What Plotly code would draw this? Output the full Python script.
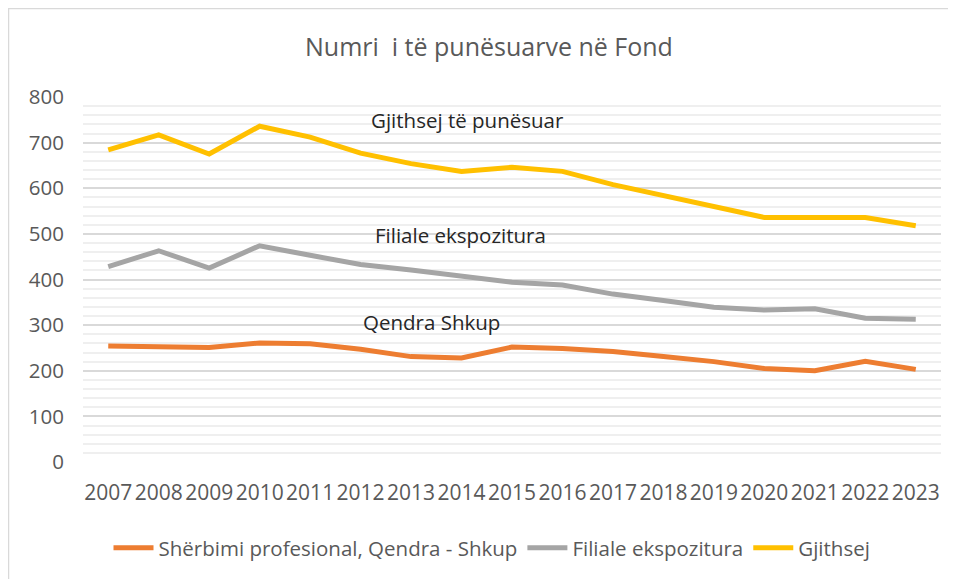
import plotly.graph_objects as go

years = list(range(2007, 2024))
qendra = [254, 253, 251, 261, 259, 247, 231, 228, 252, 249, 242, 231, 220, 205, 200, 221, 203]
filiale = [428, 463, 425, 474, 453, 433, 421, 407, 394, 388, 368, 354, 339, 333, 336, 315, 313]
gjithsej = [684, 717, 675, 736, 712, 677, 654, 637, 646, 637, 608, 584, 558, 536, 536, 536, 518]

series_names = ["Shërbimi profesional, Qendra - Shkup", "Filiale ekspozitura", "Gjithsej"]
colors = ["#ED7D31", "#A5A5A5", "#FFC000"]
title_text = "Numri  i të punësuarve në Fond"
y_ticks = [0, 100, 200, 300, 400, 500, 600, 700, 800]

# page is offset by the default 8px body margin
OFF = 8
W, H = 956, 579
ml, mt = 83 - OFF, 97 - OFF
pw, ph = 858, 365
mr = W - ml - pw
mb = H - mt - ph

def px_x(p):
    return (p - OFF - ml) / pw

def px_y(p):
    return (mt + ph - (p - OFF)) / ph

FONT = "Open Sans"
fig = go.Figure()
for vals, name, col in zip([qendra, filiale, gjithsej], series_names, colors):
    fig.add_trace(go.Scatter(x=years, y=vals, name=name, mode="lines",
                             line=dict(color=col, width=5)))

annotations = [
    dict(text="Gjithsej të punësuar", x=2014.11, y=750),
    dict(text="Filiale ekspozitura", x=2013.98, y=498),
    dict(text="Qendra Shkup", x=2013.4, y=307),
]
for a in annotations:
    fig.add_annotation(text=a["text"], x=a["x"], y=a["y"], xref="x", yref="y",
                       showarrow=False, font=dict(family=FONT, size=20.5, color="#262626"),
                       xanchor="center", yanchor="middle")

fig.add_annotation(text=title_text, xref="paper", yref="paper",
                   x=px_x(488.5), y=px_y(46), showarrow=False,
                   xanchor="center", yanchor="middle",
                   font=dict(family=FONT, size=25, color="#595959"))

fig.add_shape(type="rect", xref="paper", yref="paper",
              x0=px_x(8.5), y0=px_y(600), x1=px_x(980), y1=px_y(8.5),
              line=dict(color="#D9D9D9", width=1.5), layer="below")

fig.update_layout(
    width=W, height=H,
    margin=dict(l=ml, r=mr, t=mt, b=mb),
    paper_bgcolor="white", plot_bgcolor="white",
    showlegend=True,
    legend=dict(orientation="h", x=px_x(492), y=px_y(548), xanchor="center", yanchor="middle",
                font=dict(family=FONT, size=20.5, color="#595959"), itemwidth=40,
                tracegroupgap=0),
    xaxis=dict(range=[2006.5, 2023.5], tickmode="array", tickvals=years,
               ticktext=[str(y) for y in years], showgrid=False, zeroline=False,
               showline=False, ticks="", tickfont=dict(family=FONT, size=21, color="#595959"),
               ticklabelstandoff=16),
    yaxis=dict(range=[0, 800], tickmode="array", tickvals=y_ticks,
               showgrid=True, gridcolor="#D9D9D9", gridwidth=1.5, zeroline=False,
               showline=False, ticks="", tickfont=dict(family=FONT, size=20.5, color="#595959"),
               ticklabelstandoff=18,
               minor=dict(dtick=20, showgrid=True, gridcolor="#EFEFEF", gridwidth=1.5)),
)

fig.write_html("out.html")
